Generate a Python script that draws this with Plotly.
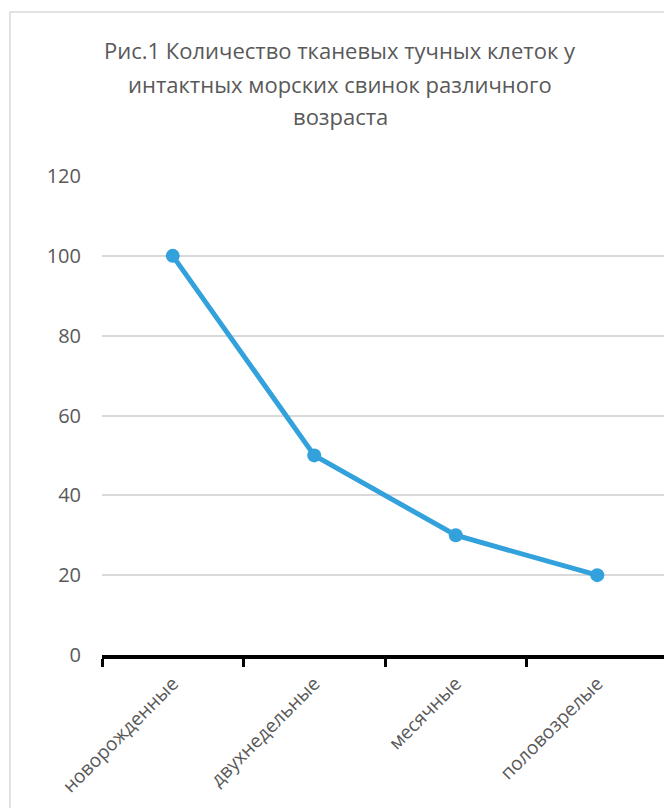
import plotly.graph_objects as go

categories = ["новорожденные", "двухнедельные", "месячные", "половозрелые"]
values = [100, 50, 30, 20]
y_ticks = [0, 20, 40, 60, 80, 100, 120]
title_lines = ["Рис.1 Количество тканевых тучных клеток у",
               "интактных морских свинок различного",
               "возраста"]

# page has an 8px body margin: figure origin at page (8, 8)
W, H = 664, 800
L, R, T, B = 94, 4, 168, 153

fig = go.Figure()
fig.add_trace(go.Scatter(
    x=categories, y=values, mode="lines+markers",
    line=dict(color="#33A1DC", width=5),
    marker=dict(color="#33A1DC", size=14),
    showlegend=False, cliponaxis=False,
))

pw = W - L - R
ph = H - T - B
fig.add_shape(type="rect", xref="paper", yref="paper",
              x0=(2 - L) / pw, x1=1.2, y0=-0.6, y1=1 + (T - 4) / ph,
              line=dict(color="#D9D9D9", width=1.5), fillcolor="rgba(0,0,0,0)", layer="below")

title_y = [42, 76, 108]
for line, fy in zip(title_lines, title_y):
    fig.add_annotation(text=line, xref="paper", yref="paper",
                       x=(332 - L) / pw, y=1 + (T - fy) / ph,
                       xanchor="center", yanchor="middle", showarrow=False,
                       font=dict(size=22, color="#595959", family="Open Sans"))

fig.update_layout(
    width=W, height=H,
    margin=dict(l=L, r=R, t=T, b=B),
    paper_bgcolor="white", plot_bgcolor="white",
    font=dict(family="Open Sans", color="#595959"),
    xaxis=dict(
        type="category", range=[-0.5, 3.5], showgrid=False,
        showline=True, linecolor="black", linewidth=4,
        ticks="outside", tickson="boundaries", ticklen=8, tickwidth=3, tickcolor="black",
        tickangle=-45, ticklabelstandoff=6,
        tickfont=dict(size=19, color="#595959", family="Open Sans"),
    ),
    yaxis=dict(
        range=[0, 120], tickvals=y_ticks, showgrid=True, gridcolor="#D9D9D9", gridwidth=1.5,
        zeroline=False, showline=False, ticks="", ticklabelstandoff=20,
        tickfont=dict(size=20, color="#595959", family="Open Sans"),
    ),
)

fig.write_html("out.html")
